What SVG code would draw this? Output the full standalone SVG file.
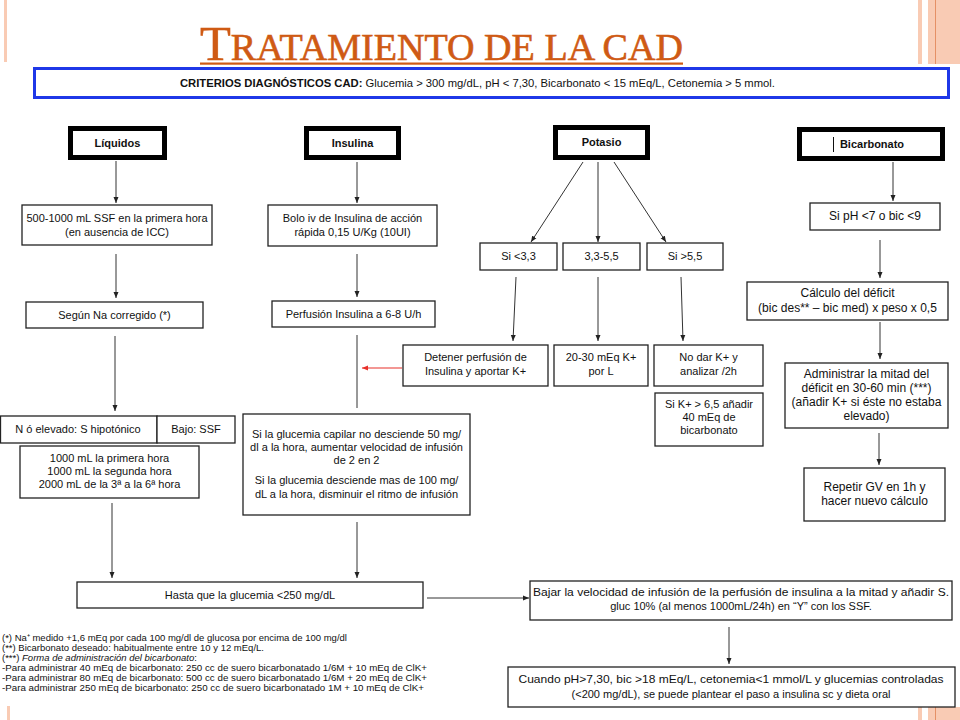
<svg xmlns="http://www.w3.org/2000/svg" width="960" height="720" viewBox="0 0 960 720">
<defs>
<marker id="ah" viewBox="0 0 6 6" refX="6" refY="3" markerWidth="6" markerHeight="6" markerUnits="userSpaceOnUse" orient="auto"><path d="M0,0.5 L6,3 L0,5.5 z" fill="#222"/></marker>
<marker id="ahr" viewBox="0 0 6 6" refX="6" refY="3" markerWidth="6" markerHeight="6" markerUnits="userSpaceOnUse" orient="auto"><path d="M0,0.5 L6,3 L0,5.5 z" fill="#e8302a"/></marker>
<style>
.box{fill:#fff;stroke:#222;stroke-width:1.3}
.hdr{fill:#fff;stroke:#000;stroke-width:5}
.t{font-family:"Liberation Sans",Arial,sans-serif;font-size:11px;fill:#111;text-anchor:middle}
.t12{font-family:"Liberation Sans",Arial,sans-serif;font-size:12px;fill:#111;text-anchor:middle}
.h{font-family:"Liberation Sans",Arial,sans-serif;font-size:11px;font-weight:bold;fill:#111;text-anchor:middle}
.fn{font-family:"Liberation Sans",Arial,sans-serif;font-size:9.5px;fill:#111}
.c{stroke:#333;stroke-width:1;fill:none}
.deco{fill:#f9cbb4}
</style>
</defs>
<rect width="960" height="720" fill="#fff"/>
<!-- decorations -->
<rect class="deco" x="4" y="0" width="3" height="62"/>
<rect class="deco" x="7" y="706" width="3" height="14"/>
<rect class="deco" x="918" y="0" width="4" height="64"/>
<rect class="deco" x="928" y="0" width="32" height="64"/>
<rect x="935" y="0" width="1" height="64" fill="#e59066"/>
<rect class="deco" x="918" y="707" width="4" height="13"/>
<rect class="deco" x="928" y="707" width="32" height="13"/>
<rect x="935" y="707" width="1" height="13" fill="#e59066"/>
<!-- title -->
<g id="title">
<text x="200" y="60" font-family="'Liberation Serif','Times New Roman',serif" fill="#cf5a14" stroke="#cf5a14" stroke-width="0.6" textLength="483" lengthAdjust="spacingAndGlyphs"><tspan font-size="49">T</tspan><tspan font-size="37">RATAMIENTO DE LA CAD</tspan></text>
<rect x="200" y="62.5" width="483" height="2.2" fill="#cf5a14"/>
</g>
<g id="criterios">
<rect x="34.5" y="68.5" width="914" height="29" fill="#fff" stroke="#1f38e8" stroke-width="3"/>
<text x="180" y="87" font-family="'Liberation Sans',Arial,sans-serif" font-size="11" fill="#111" textLength="595" lengthAdjust="spacingAndGlyphs"><tspan font-weight="bold">CRITERIOS DIAGNÓSTICOS CAD:</tspan> Glucemia &gt; 300 mg/dL, pH &lt; 7,30, Bicarbonato &lt; 15 mEq/L, Cetonemia &gt; 5 mmol.</text>
</g>
<!-- connectors -->
<g id="connectors">
<line class="c" x1="116" y1="161" x2="116" y2="203" marker-end="url(#ah)"/>
<line class="c" x1="116" y1="254" x2="116" y2="298" marker-end="url(#ah)"/>
<line class="c" x1="115" y1="336" x2="115" y2="411" marker-end="url(#ah)"/>
<line class="c" x1="112" y1="503" x2="112" y2="578" marker-end="url(#ah)"/>
<line class="c" x1="357" y1="162" x2="357" y2="203" marker-end="url(#ah)"/>
<line class="c" x1="357" y1="254" x2="357" y2="297" marker-end="url(#ah)"/>
<line class="c" x1="357" y1="335" x2="357" y2="408"/>
<line x1="402" y1="368" x2="362" y2="368" stroke="#e8302a" stroke-width="1.2" marker-end="url(#ahr)"/>
<line class="c" x1="357" y1="522" x2="357" y2="578" marker-end="url(#ah)"/>
<line class="c" x1="583" y1="162" x2="531" y2="242" marker-end="url(#ah)"/>
<line class="c" x1="598" y1="162" x2="598" y2="242" marker-end="url(#ah)"/>
<line class="c" x1="614" y1="162" x2="666" y2="242" marker-end="url(#ah)"/>
<line class="c" x1="516" y1="277" x2="513" y2="341" marker-end="url(#ah)"/>
<line class="c" x1="598" y1="277" x2="598" y2="341" marker-end="url(#ah)"/>
<line class="c" x1="681" y1="277" x2="683" y2="341" marker-end="url(#ah)"/>
<line class="c" x1="893" y1="162" x2="893" y2="201" marker-end="url(#ah)"/>
<line class="c" x1="880" y1="240" x2="880" y2="278" marker-end="url(#ah)"/>
<line class="c" x1="880" y1="322" x2="880" y2="359" marker-end="url(#ah)"/>
<line class="c" x1="879" y1="433" x2="879" y2="465" marker-end="url(#ah)"/>
<line class="c" x1="427" y1="598" x2="529" y2="598" marker-end="url(#ah)"/>
<line class="c" x1="729" y1="627" x2="729" y2="664" marker-end="url(#ah)"/>
</g>
<!-- Liquidos column -->
<g id="liquidos"><rect class="hdr" x="70.5" y="128.5" width="94" height="29"/><text class="h" x="117.5" y="147">Líquidos</text></g>
<g id="ssf"><rect class="box" x="22" y="205" width="190" height="40"/><text class="t" x="117" y="222">500-1000 mL SSF en la primera hora</text><text class="t" x="117" y="236">(en ausencia de ICC)</text></g>
<g id="segun-na"><rect class="box" x="26" y="302" width="177" height="26"/><text class="t" x="114.5" y="319">Según Na corregido (*)</text></g>
<g id="na-elevado"><rect class="box" x="0.5" y="416" width="156.5" height="27"/><text class="t" x="78" y="433">N ó elevado: S hipotónico</text></g>
<g id="na-bajo"><rect class="box" x="157" y="416" width="78" height="27"/><text class="t" x="196" y="433">Bajo: SSF</text></g>
<g id="volumenes"><rect class="box" x="20" y="446" width="179" height="52"/><text class="t" x="109.5" y="462">1000 mL la primera hora</text><text class="t" x="109.5" y="475">1000 mL la segunda hora</text><text class="t" x="109.5" y="488">2000 mL de la 3ª a la 6ª hora</text></g>
<g id="hasta"><rect class="box" x="77" y="582" width="346" height="26"/><text class="t" x="250" y="599">Hasta que la glucemia &lt;250 mg/dL</text></g>
<!-- Insulina column -->
<g id="insulina"><rect class="hdr" x="306.5" y="128.5" width="92" height="29"/><text class="h" x="352.5" y="147">Insulina</text></g>
<g id="bolo"><rect class="box" x="268" y="205" width="169" height="41"/><text class="t" x="352.5" y="222">Bolo iv de Insulina de acción</text><text class="t" x="352.5" y="236">rápida 0,15 U/Kg (10UI)</text></g>
<g id="perfusion"><rect class="box" x="272" y="301" width="163" height="26"/><text class="t" x="353.5" y="318">Perfusión Insulina a 6-8 U/h</text></g>
<g id="ajuste"><rect class="box" x="243" y="414" width="227" height="101"/><text class="t" x="356.5" y="438">Si la glucemia capilar no desciende 50 mg/</text><text class="t" x="356.5" y="451">dl a la hora, aumentar velocidad de infusión</text><text class="t" x="356.5" y="464">de 2 en 2</text><text class="t" x="356.5" y="484">Si la glucemia desciende mas de 100 mg/</text><text class="t" x="356.5" y="498">dL a la hora, disminuir el ritmo de infusión</text></g>
<!-- Potasio column -->
<g id="potasio"><rect class="hdr" x="555.5" y="127.5" width="92" height="30"/><text class="h" x="601.5" y="146">Potasio</text></g>
<g id="k-bajo"><rect class="box" x="480" y="243" width="77" height="27"/><text class="t" x="518.5" y="260">Si &lt;3,3</text></g>
<g id="k-normal"><rect class="box" x="563" y="243" width="77" height="27"/><text class="t" x="601.5" y="260">3,3-5,5</text></g>
<g id="k-alto"><rect class="box" x="647" y="243" width="76" height="27"/><text class="t" x="685" y="260">Si &gt;5,5</text></g>
<g id="detener"><rect class="box" x="403" y="345" width="145" height="41"/><text class="t" x="475.5" y="361">Detener perfusión de</text><text class="t" x="475.5" y="375">Insulina y aportar K+</text></g>
<g id="k-aporte"><rect class="box" x="554" y="345" width="94" height="41"/><text class="t" x="601" y="361">20-30 mEq K+</text><text class="t" x="601" y="375">por L</text></g>
<g id="no-dar"><rect class="box" x="654" y="345" width="109" height="41"/><text class="t" x="708.5" y="361">No dar K+ y</text><text class="t" x="708.5" y="375">analizar /2h</text></g>
<g id="k-65"><rect class="box" x="655" y="393" width="108" height="53"/><text class="t" x="709" y="408">Si K+ &gt; 6,5 añadir</text><text class="t" x="709" y="421">40 mEq de</text><text class="t" x="709" y="434">bicarbonato</text></g>
<!-- Bicarbonato column -->
<g id="bicarbonato"><rect class="hdr" x="799.5" y="129.5" width="143" height="29"/><line x1="833.5" y1="137" x2="833.5" y2="152" stroke="#111" stroke-width="1"/><text class="h" x="872" y="148">Bicarbonato</text></g>
<g id="si-ph"><rect class="box" x="810" y="203" width="130" height="27"/><text class="t12" x="875" y="220">Si pH &lt;7 o bic &lt;9</text></g>
<g id="calculo"><rect class="box" x="747" y="282" width="201" height="38"/><text class="t12" x="847.5" y="297">Cálculo del déficit</text><text class="t12" x="847.5" y="312">(bic des** – bic med) x peso x 0,5</text></g>
<g id="administrar"><rect class="box" x="785" y="363" width="163" height="65"/><text class="t12" x="866.5" y="378">Administrar la mitad del</text><text class="t12" x="866.5" y="392">déficit en 30-60 min (***)</text><text class="t12" x="866.5" y="406">(añadir K+ si éste no estaba</text><text class="t12" x="866.5" y="420">elevado)</text></g>
<g id="repetir"><rect class="box" x="804" y="468" width="141" height="53"/><text class="t12" x="874.5" y="491">Repetir GV en 1h y</text><text class="t12" x="874.5" y="505">hacer nuevo cálculo</text></g>
<!-- bottom right -->
<g id="bajar"><rect class="box" x="530" y="581" width="422" height="39"/><text class="t" x="741" y="596" textLength="416" lengthAdjust="spacingAndGlyphs">Bajar la velocidad de infusión de la perfusión de insulina a la mitad y añadir S.</text><text class="t" x="741" y="610">gluc 10% (al menos 1000mL/24h) en “Y” con los SSF.</text></g>
<g id="cuando"><rect class="box" x="508" y="667" width="447" height="40"/><text class="t" x="731" y="683" textLength="425" lengthAdjust="spacingAndGlyphs">Cuando pH&gt;7,30, bic &gt;18 mEq/L, cetonemia&lt;1 mmol/L y glucemias controladas</text><text class="t" x="731" y="698">(&lt;200 mg/dL), se puede plantear el paso a insulina sc y dieta oral</text></g>
<!-- footnotes -->
<g id="notas">
<text class="fn" x="2" y="641">(*) Na⁺ medido +1,6 mEq por cada 100 mg/dl de glucosa por encima de 100 mg/dl</text>
<text class="fn" x="2" y="651">(**) Bicarbonato deseado: habitualmente entre 10 y 12 mEq/L.</text>
<text class="fn" x="2" y="661">(***) <tspan font-style="italic">Forma de administración del bicarbonato</tspan>:</text>
<text class="fn" x="2" y="671" textLength="425" lengthAdjust="spacingAndGlyphs">-Para administrar 40 mEq de bicarbonato: 250 cc de suero bicarbonatado 1/6M + 10 mEq de ClK+</text>
<text class="fn" x="2" y="681" textLength="425" lengthAdjust="spacingAndGlyphs">-Para administrar 80 mEq de bicarbonato: 500 cc de suero bicarbonatado 1/6M + 20 mEq de ClK+</text>
<text class="fn" x="2" y="691" textLength="422" lengthAdjust="spacingAndGlyphs">-Para administrar 250 mEq de bicarbonato: 250 cc de suero bicarbonatado 1M + 10 mEq de ClK+</text>
</g>
</svg>
